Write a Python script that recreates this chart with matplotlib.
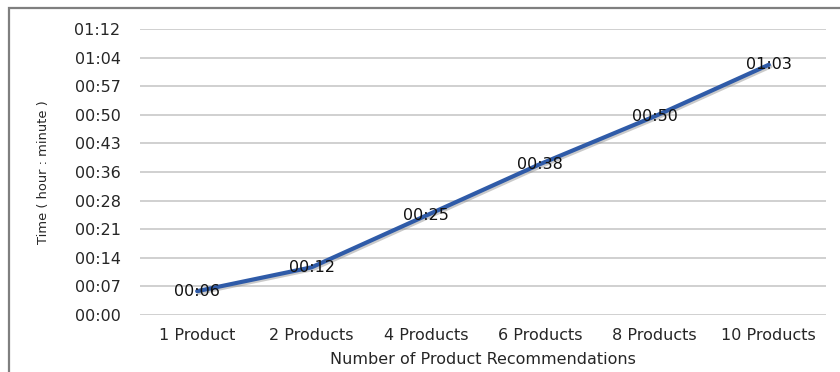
#!/usr/bin/env python3
"""Time taken vs number of product recommendations (line chart)."""

import matplotlib

matplotlib.use("Agg")
import matplotlib.pyplot as plt
import matplotlib.patheffects as pe
from matplotlib.patches import Rectangle
from matplotlib.ticker import FuncFormatter
import numpy as np

CATEGORIES = ["1 Product", "2 Products", "4 Products", "6 Products", "8 Products", "10 Products"]
MINUTES = [6, 12, 25, 38, 50, 63]
Y_STEP = 7.2  # Excel-style time axis step (0.005 day)
Y_MAX = 72.0

LINE_COLOR = "#2F5BA8"
GRID_COLOR = "#C4C4C4"
TEXT_COLOR = "#262626"


def _hhmm(minutes: float, _pos=None) -> str:
    secs = int(round(minutes * 60))
    total_min = secs // 60
    return f"{total_min // 60:02d}:{total_min % 60:02d}"


def main() -> None:
    plt.rcParams["font.family"] = ["DejaVu Sans"]
    fig = plt.figure(figsize=(8.4, 3.72), dpi=100)
    ax = fig.add_axes([140 / 840, 1 - 315 / 372, 686 / 840, 286 / 372])

    # outer chart frame (clipped at right/bottom like the source)
    fig.patches.append(
        Rectangle((9 / 840, -0.05), 1.1, 1 - 8 / 372 + 0.05, transform=fig.transFigure,
                  fill=False, edgecolor="#7F7F7F", linewidth=1.6)
    )

    x = np.arange(len(CATEGORIES))
    ax.plot(
        x, MINUTES, color=LINE_COLOR, linewidth=3.0, solid_capstyle="round", zorder=3,
        path_effects=[pe.SimpleLineShadow(offset=(1.2, -1.2), shadow_color="#8A8A8A", alpha=0.45),
                      pe.Normal()],
    )
    for xi, val in zip(x, MINUTES):
        ax.text(xi, val, _hhmm(val), ha="center", va="center", fontsize=11.5, color="#111111", zorder=4)

    ax.set_xlim(-0.5, len(CATEGORIES) - 0.5)
    ax.set_ylim(0, Y_MAX)
    ax.set_yticks(np.arange(0, Y_MAX + 0.01, Y_STEP))
    ax.yaxis.set_major_formatter(FuncFormatter(_hhmm))
    ax.set_xticks(x)
    ax.set_xticklabels(CATEGORIES)
    ax.tick_params(axis="both", length=0, labelsize=11.5, labelcolor=TEXT_COLOR)
    ax.tick_params(axis="y", pad=14)
    ax.tick_params(axis="x", pad=9)
    ax.grid(axis="y", color=GRID_COLOR, linewidth=1.1)
    ax.set_axisbelow(True)
    for spine in ax.spines.values():
        spine.set_visible(False)

    ax.set_xlabel("Number of Product Recommendations", fontsize=11.5, color=TEXT_COLOR, labelpad=7)
    ax.set_ylabel("Time ( hour : minute )", fontsize=9.4, color=TEXT_COLOR)
    ax.yaxis.set_label_coords(-0.131, 0.5)

    fig.savefig("out.png", dpi=100)
    plt.close(fig)


if __name__ == "__main__":
    main()
